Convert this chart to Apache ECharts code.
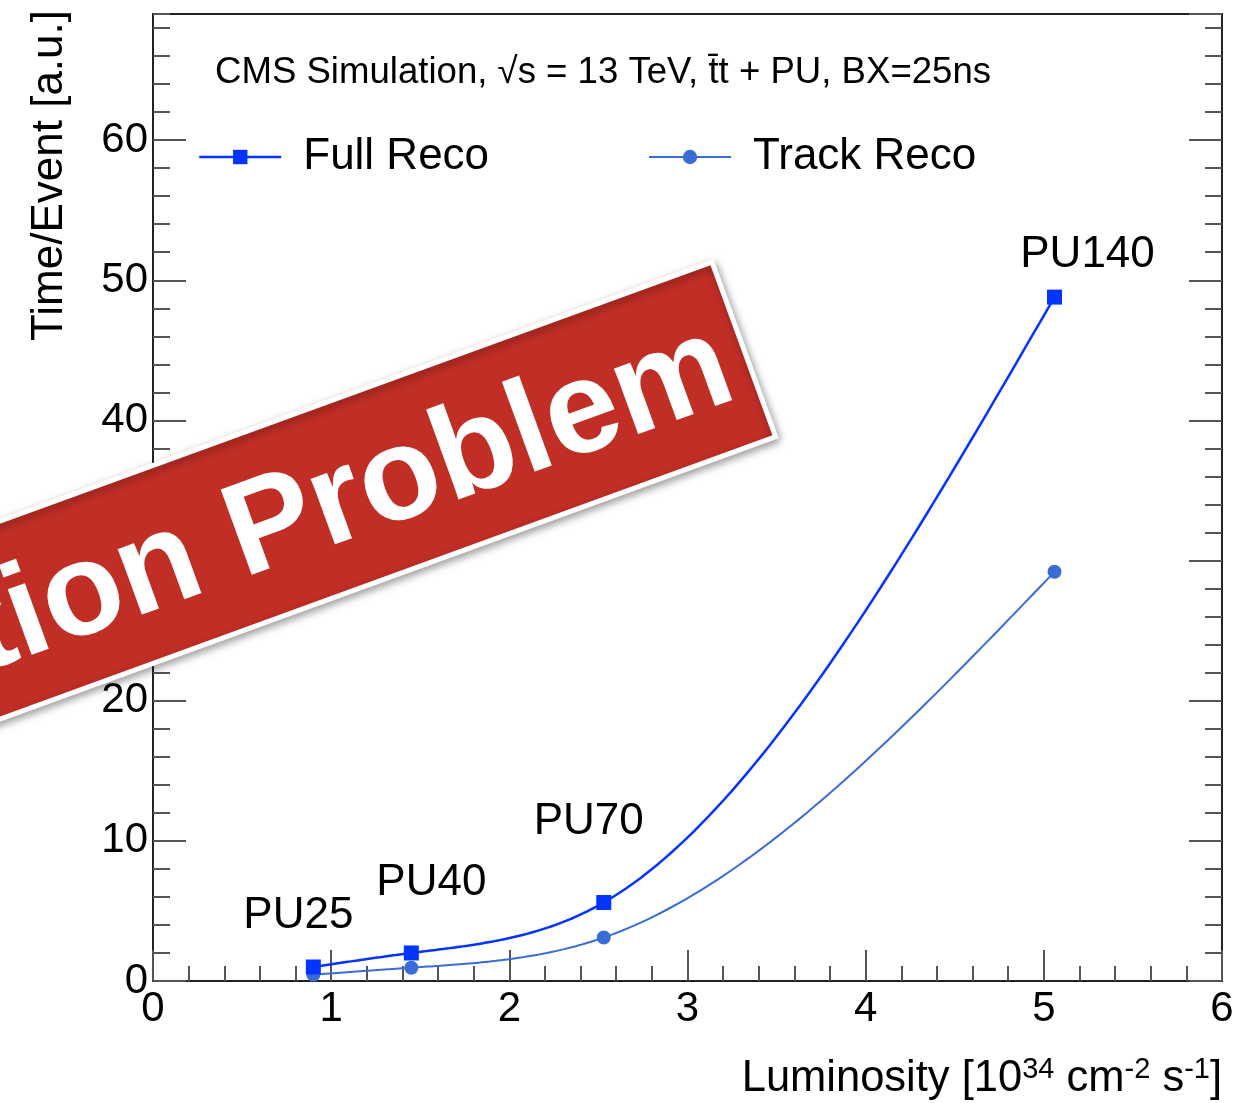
<!DOCTYPE html>
<html>
<head>
<meta charset="utf-8">
<title>Time per event vs luminosity</title>
<script src="https://cdn.jsdelivr.net/npm/echarts@6/dist/echarts.min.js"></script>
<style>
  html, body { margin: 0; padding: 0; background: #fff; }
  #chart { width: 1241px; height: 1103px; }
</style>
</head>
<body>
<div id="chart"></div>
<script>
// Instantaneous luminosity for each pile-up scenario [10^34 cm^-2 s^-1]
const lumi = [0.90, 1.45, 2.53, 5.06];
// Pile-up scenario names
const puLabels = ['PU25', 'PU40', 'PU70', 'PU140'];
// Processing time per event [a.u.]
const fullReco = [1.0, 2.0, 5.6, 48.8];
const trackReco = [0.45, 0.95, 3.1, 29.2];
// Axis ticks
const xTicks = [0, 1, 2, 3, 4, 5, 6];
const yMajorStep = 10;
const yMinorStep = 2;
const yMax = 69;

// Pixel offsets of the scenario names from their markers
const puLabelOffsets = [[-15, -51], [20, -70], [-15, -81], [33, -42]];

const FONT = '"Liberation Sans", Arial, Helvetica, sans-serif';
const BLUE_FULL = '#0533ff';
const BLUE_TRACK = '#3a6cd6';
const TICK_COLOR = '#555';

const chart = echarts.init(document.getElementById('chart'), null, { renderer: 'canvas' });

function pairs(xs, ys) {
  return xs.map((x, i) => [x, ys[i]]);
}

// Natural cubic spline y(x) through the given points (smooth graph curve)
function naturalSpline(xs, ys) {
  const n = xs.length;
  const h = [];
  for (let i = 0; i < n - 1; i++) h.push(xs[i + 1] - xs[i]);
  const M = new Array(n).fill(0);
  if (n > 2) {
    const m = n - 2;
    const a = [], b = [], c = [], d = [];
    for (let i = 1; i <= m; i++) {
      a.push(h[i - 1]);
      b.push(2 * (h[i - 1] + h[i]));
      c.push(h[i]);
      d.push(6 * ((ys[i + 1] - ys[i]) / h[i] - (ys[i] - ys[i - 1]) / h[i - 1]));
    }
    for (let i = 1; i < m; i++) {
      const w = a[i] / b[i - 1];
      b[i] -= w * c[i - 1];
      d[i] -= w * d[i - 1];
    }
    const sol = new Array(m);
    sol[m - 1] = d[m - 1] / b[m - 1];
    for (let i = m - 2; i >= 0; i--) sol[i] = (d[i] - c[i] * sol[i + 1]) / b[i];
    for (let i = 0; i < m; i++) M[i + 1] = sol[i];
  }
  return function (x) {
    let i = 0;
    while (i < n - 2 && x > xs[i + 1]) i++;
    const hi = h[i];
    const A = xs[i + 1] - x;
    const B = x - xs[i];
    return M[i] * A * A * A / (6 * hi) + M[i + 1] * B * B * B / (6 * hi)
      + (ys[i] / hi - M[i] * hi / 6) * A + (ys[i + 1] / hi - M[i + 1] * hi / 6) * B;
  };
}

function curveSeries(name, xs, ys, color, width) {
  const f = naturalSpline(xs, ys);
  return {
    name: name,
    type: 'custom',
    yAxisIndex: 0,
    data: pairs(xs, ys),
    encode: { x: 0, y: 1 },
    silent: true,
    z: 2,
    renderItem: function (params, api) {
      if (params.dataIndex !== 0) return null;
      const pts = [];
      const steps = 60;
      for (let i = 0; i < xs.length - 1; i++) {
        for (let k = 0; k <= steps; k++) {
          const x = xs[i] + (xs[i + 1] - xs[i]) * k / steps;
          pts.push(api.coord([x, f(x)]));
        }
      }
      return {
        type: 'polyline',
        shape: { points: pts },
        style: { stroke: color, lineWidth: width, fill: null }
      };
    }
  };
}

const fullData = pairs(lumi, fullReco).map((p, i) => ({
  value: p,
  label: {
    show: true,
    formatter: puLabels[i],
    position: 'inside',
    offset: puLabelOffsets[i],
    color: '#000',
    fontSize: 44,
    fontFamily: FONT
  }
}));

function yTickAxis(position, step, len, withLabels) {
  return {
    type: 'value',
    position: position,
    min: 0,
    max: yMax,
    interval: step,
    axisLine: { show: false },
    splitLine: { show: false },
    axisTick: { show: true, inside: true, length: len, lineStyle: { color: TICK_COLOR, width: 2 } },
    axisLabel: withLabels ? {
      show: true,
      fontSize: 42,
      fontFamily: FONT,
      color: '#000',
      margin: 5,
      showMaxLabel: false,
      formatter: v => (v % yMajorStep === 0 ? String(v) : '')
    } : { show: false }
  };
}

const yMain = yTickAxis('left', yMajorStep, 33, true);
yMain.name = 'Time/Event [a.u.]';
yMain.nameLocation = 'end';
yMain.nameRotate = 90;
yMain.nameGap = 4;
yMain.nameTextStyle = {
  fontSize: 44,
  fontFamily: FONT,
  color: '#000',
  align: 'right',
  verticalAlign: 'bottom',
  padding: [0, 0, 81, 0]
};

function legendFor(name, left, color, width) {
  return {
    data: [name],
    left: left,
    top: 135,
    padding: 0,
    itemWidth: 82,
    itemHeight: 18,
    lineStyle: { color: color, width: width, opacity: 1 },
    textStyle: { fontSize: 44, fontFamily: FONT, color: '#000', padding: [0, 0, 0, 17] }
  };
}

const option = {
  backgroundColor: '#fff',
  animation: false,
  title: {
    text: 'CMS Simulation, \u221As = 13 TeV, t\u0304t + PU, BX=25ns',
    left: 215,
    top: 54,
    padding: 0,
    textStyle: { fontSize: 36.6, fontWeight: 'normal', fontFamily: FONT, color: '#000' }
  },
  legend: [
    legendFor('Full Reco', 198, BLUE_FULL, 2.5),
    legendFor('Track Reco', 648, BLUE_TRACK, 2)
  ],
  grid: {
    left: 153,
    right: 19,
    top: 14,
    bottom: 122,
    show: true,
    borderColor: '#222',
    borderWidth: 2,
    backgroundColor: 'transparent'
  },
  xAxis: {
    type: 'value',
    min: xTicks[0],
    max: xTicks[xTicks.length - 1],
    interval: 1,
    axisLine: { show: false },
    splitLine: { show: false },
    axisTick: { show: true, inside: true, length: 31, lineStyle: { color: TICK_COLOR, width: 2 } },
    minorTick: { show: true, splitNumber: 5, length: 15, lineStyle: { color: TICK_COLOR, width: 2 } },
    axisLabel: { fontSize: 42, fontFamily: FONT, color: '#000', margin: 7 },
    name: '{n|Luminosity [10}{s|34}{n| cm}{s|-2}{n| s}{s|-1}{n|]}',
    nameLocation: 'end',
    nameGap: 0,
    nameTextStyle: {
      align: 'right',
      verticalAlign: 'top',
      padding: [74, 0, 0, 0],
      rich: {
        n: { fontSize: 43.5, fontFamily: FONT, color: '#000' },
        s: { fontSize: 29, fontFamily: FONT, color: '#000', padding: [0, 0, 19, 0] }
      }
    }
  },
  yAxis: [
    yMain,
    yTickAxis('left', yMinorStep, 17, false),
    yTickAxis('right', yMajorStep, 33, false),
    yTickAxis('right', yMinorStep, 17, false)
  ],
  series: [
    curveSeries('Full Reco curve', lumi, fullReco, BLUE_FULL, 2.5),
    curveSeries('Track Reco curve', lumi, trackReco, BLUE_TRACK, 2),
    {
      name: 'Full Reco',
      type: 'line',
      yAxisIndex: 0,
      data: fullData,
      symbol: 'rect',
      symbolSize: 15,
      color: BLUE_FULL,
      lineStyle: { color: BLUE_FULL, width: 2.5, opacity: 0 },
      itemStyle: { color: BLUE_FULL },
      z: 4
    },
    {
      name: 'Track Reco',
      type: 'line',
      yAxisIndex: 0,
      data: pairs(lumi, trackReco),
      symbol: 'circle',
      symbolSize: 14,
      color: BLUE_TRACK,
      lineStyle: { color: BLUE_TRACK, width: 2, opacity: 0 },
      itemStyle: { color: BLUE_TRACK },
      z: 3
    }
  ],
  graphic: [
    {
      // Red slanted banner laid over the plot
      type: 'group',
      x: 712,
      y: 262,
      rotation: 20 * Math.PI / 180,
      z: 100,
      zlevel: 1,
      children: [
        {
          type: 'rect',
          z: 100,
          zlevel: 1,
          shape: { x: -1100, y: 0, width: 1100, height: 186 },
          style: {
            fill: '#c12e26',
            stroke: '#fff',
            lineWidth: 5,
            shadowBlur: 8,
            shadowOffsetX: 2,
            shadowOffsetY: 3,
            shadowColor: 'rgba(0,0,0,0.35)'
          }
        },
        {
          type: 'text',
          z: 101,
          zlevel: 1,
          style: {
            text: 'tion Problem',
            x: -20,
            y: 100,
            align: 'right',
            verticalAlign: 'middle',
            fill: '#fff',
            font: 'bold 132px ' + FONT
          }
        }
      ]
    }
  ]
};

chart.setOption(option);
</script>
</body>
</html>
